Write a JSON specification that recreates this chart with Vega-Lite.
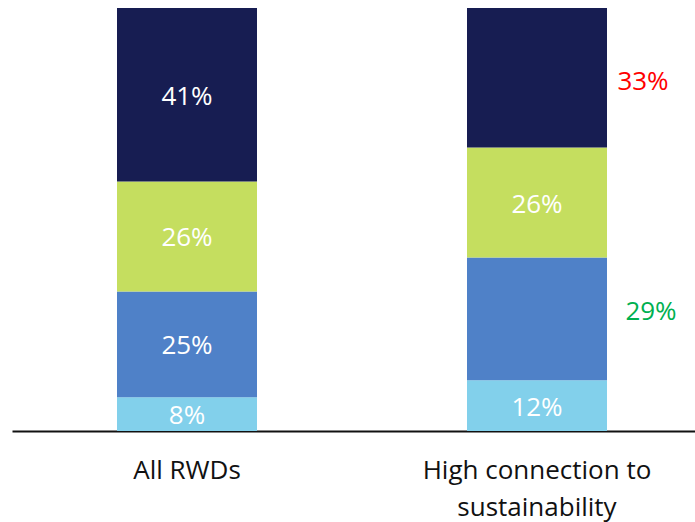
{
  "$schema": "https://vega.github.io/schema/vega-lite/v6.json",
  "width": 683,
  "height": 423,
  "autosize": {"type": "none"},
  "padding": {"left": 12, "top": 8, "right": 0, "bottom": 91},
  "background": "white",
  "config": {
    "view": {"stroke": null},
    "font": "Open Sans"
  },
  "data": {
    "values": [
      {"group": "All RWDs", "seg": 1, "share": 0.08},
      {"group": "All RWDs", "seg": 2, "share": 0.25},
      {"group": "All RWDs", "seg": 3, "share": 0.26},
      {"group": "All RWDs", "seg": 4, "share": 0.41},
      {"group": "High connection to sustainability", "seg": 1, "share": 0.12},
      {"group": "High connection to sustainability", "seg": 2, "share": 0.29},
      {"group": "High connection to sustainability", "seg": 3, "share": 0.26},
      {"group": "High connection to sustainability", "seg": 4, "share": 0.33}
    ]
  },
  "encoding": {
    "x": {
      "field": "group",
      "type": "nominal",
      "sort": null,
      "scale": {"range": [0, 700], "paddingInner": 0.6, "paddingOuter": 0.3},
      "axis": {
        "title": null,
        "labelAngle": 0,
        "labelFontSize": 26,
        "labelColor": "#111111",
        "labelPadding": 26,
        "labelLineHeight": 37,
        "labelBaseline": "top",
        "labelLimit": 0,
        "ticks": false,
        "domainColor": "#111111",
        "domainWidth": 2,
        "labelExpr": "datum.label == 'High connection to sustainability' ? ['High connection to', 'sustainability'] : datum.label"
      }
    },
    "y": {
      "field": "share",
      "type": "quantitative",
      "stack": "zero",
      "scale": {"domain": [0, 1]},
      "axis": null
    },
    "order": {"field": "seg", "type": "ordinal"}
  },
  "layer": [
    {
      "mark": {"type": "bar"},
      "encoding": {
        "color": {
          "field": "seg",
          "type": "ordinal",
          "scale": {"domain": [1, 2, 3, 4], "range": ["#82d0eb", "#4f81c8", "#c5de5f", "#171d52"]},
          "legend": null
        }
      }
    },
    {
      "mark": {"type": "text", "color": "white", "fontSize": 26, "baseline": "middle", "dy": 2},
      "encoding": {
        "y": {"field": "share", "type": "quantitative", "stack": "zero", "bandPosition": 0.5},
        "text": {
          "condition": {"test": "datum.group == 'High connection to sustainability' && (datum.seg == 2 || datum.seg == 4)", "value": ""},
          "field": "share",
          "type": "quantitative",
          "format": ".0%"
        }
      }
    },
    {
      "mark": {"type": "text", "color": "#ff0000", "fontSize": 26, "baseline": "middle", "dx": 106, "dy": 4},
      "encoding": {
        "y": {"field": "share", "type": "quantitative", "stack": "zero", "bandPosition": 0.5},
        "text": {
          "condition": {"test": "datum.group == 'High connection to sustainability' && datum.seg == 4", "field": "share", "type": "quantitative", "format": ".0%"},
          "value": ""
        }
      }
    },
    {
      "mark": {"type": "text", "color": "#00b050", "fontSize": 26, "baseline": "middle", "dx": 114, "dy": -7},
      "encoding": {
        "y": {"field": "share", "type": "quantitative", "stack": "zero", "bandPosition": 0.5},
        "text": {
          "condition": {"test": "datum.group == 'High connection to sustainability' && datum.seg == 2", "field": "share", "type": "quantitative", "format": ".0%"},
          "value": ""
        }
      }
    }
  ]
}
